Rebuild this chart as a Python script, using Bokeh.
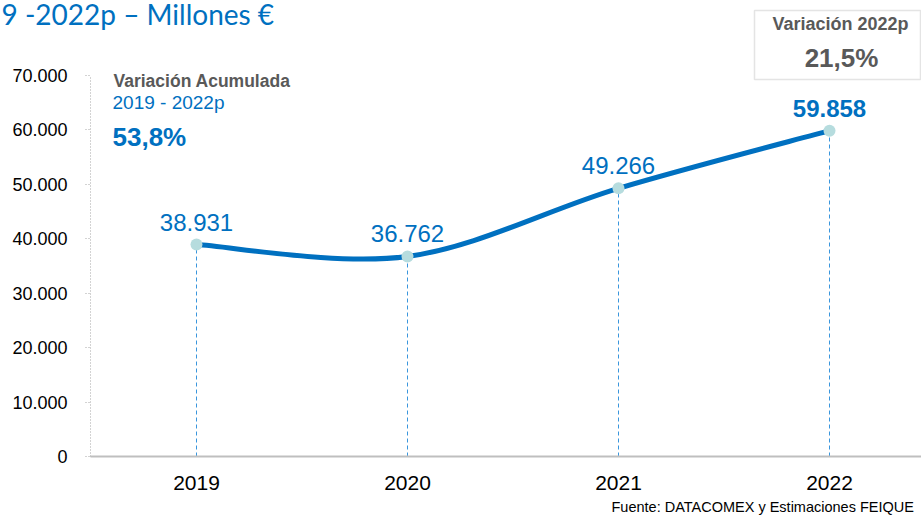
from bokeh.plotting import figure
from bokeh.models import Label, FixedTicker, Range1d, BoxAnnotation, ColumnDataSource
from bokeh.embed import file_html
from bokeh.resources import INLINE

# ---- data ----
years = ["2019", "2020", "2021", "2022"]
values = [38931, 36762, 49266, 59858]
value_labels = ["38.931", "36.762", "49.266", "59.858"]
y_ticks = [0, 10000, 20000, 30000, 40000, 50000, 60000, 70000]
y_tick_labels = ["0", "10.000", "20.000", "30.000", "40.000", "50.000", "60.000", "70.000"]
title_text = "9 -2022p  – Millones €"
cum_title = "Variación Acumulada"
cum_period = "2019 - 2022p"
cum_value = "53,8%"
var_title = "Variación 2022p"
var_value = "21,5%"
source_text = "Fuente: DATACOMEX y Estimaciones FEIQUE"

BLUE = "#0070C0"
GRAY = "#595959"
FONT = "Liberation Sans"

W, H = 921, 517
# pixel geometry of the chart area
AX_LEFT_PX, X0_PX, X_STEP_PX = 90, 196, 211
Y0_PX, YTOP_PX = 456, 75
YMAX = 70000
BASE_FIX = 0.4   # em correction for the svg alphabetic baseline

xs = list(range(len(years)))
dpp = YMAX / (Y0_PX - YTOP_PX)            # data units per pixel (y)
x_start = -X0_PX / X_STEP_PX
x_end = (W - X0_PX) / X_STEP_PX
y_start = -(H - Y0_PX) * dpp
y_end = Y0_PX * dpp
x_axis_pos = (AX_LEFT_PX - X0_PX) / X_STEP_PX

p = figure(width=W, height=H, output_backend="svg", toolbar_location=None, title=None,
           x_range=Range1d(x_start, x_end), y_range=Range1d(y_start, y_end),
           min_border_left=0, min_border_right=0, min_border_top=0, min_border_bottom=0)
p.outline_line_color = None
p.xgrid.visible = False
p.ygrid.visible = False
p.background_fill_color = "white"
p.border_fill_color = "white"

# y axis
yax = p.yaxis[0]
yax.fixed_location = x_axis_pos
yax.bounds = (0, YMAX)
yax.ticker = FixedTicker(ticks=y_ticks)
yax.major_label_overrides = {t: l for t, l in zip(y_ticks, y_tick_labels)}
yax.axis_line_color = "#A6A6A6"
yax.axis_line_dash = "1 2"
yax.major_tick_line_color = "#A6A6A6"
yax.major_tick_line_dash = "1 2"
yax.major_tick_out = 5
yax.major_tick_in = 0
yax.minor_tick_line_color = None
yax.major_label_text_font = FONT
yax.major_label_text_font_size = "18px"
yax.major_label_text_color = "#000000"
yax.major_label_standoff = 18

# x axis
xax = p.xaxis[0]
xax.fixed_location = 0
xax.bounds = (x_axis_pos, x_end)
xax.ticker = FixedTicker(ticks=xs)
xax.major_label_overrides = {i: y for i, y in zip(xs, years)}
xax.axis_line_color = "#BFBFBF"
xax.axis_line_width = 2
xax.major_tick_line_color = None
xax.minor_tick_line_color = None
xax.major_label_text_font = FONT
xax.major_label_text_font_size = "21px"
xax.major_label_text_color = "#000000"
xax.major_label_standoff = 13

# drop lines
p.segment(x0=xs, y0=[0] * len(xs), x1=xs, y1=values, line_color="#3A96DD",
          line_width=1, line_dash="4 3")

# smooth line (Catmull-Rom style bezier segments built from the data points)
x0s, y0s, x1s, y1s, cx0s, cy0s, cx1s, cy1s = [], [], [], [], [], [], [], []
n = len(xs)
for i in range(n - 1):
    pa = (xs[i - 1], values[i - 1]) if i > 0 else (xs[i], values[i])
    pb = (xs[i], values[i])
    pc = (xs[i + 1], values[i + 1])
    pd = (xs[i + 2], values[i + 2]) if i + 2 < n else pc
    x0s.append(pb[0]); y0s.append(pb[1])
    x1s.append(pc[0]); y1s.append(pc[1])
    cx0s.append(pb[0] + (pc[0] - pa[0]) / 6); cy0s.append(pb[1] + (pc[1] - pa[1]) / 6)
    cx1s.append(pc[0] - (pd[0] - pb[0]) / 6); cy1s.append(pc[1] - (pd[1] - pb[1]) / 6)
p.bezier(x0=x0s, y0=y0s, x1=x1s, y1=y1s, cx0=cx0s, cy0=cy0s, cx1=cx1s, cy1=cy1s,
         line_color=BLUE, line_width=5, line_cap="round")

p.scatter(x=xs, y=values, size=12, fill_color="#B6DCDE", line_color=None)

# value labels, baseline 13 px above each point
lift = (13 + BASE_FIX * 24) * dpp
src = ColumnDataSource(dict(x=xs[:-1], y=[v + lift for v in values[:-1]], t=value_labels[:-1]))
p.text(x="x", y="y", text="t", source=src, text_align="center",
       text_baseline="alphabetic", text_color=BLUE, text_font={"value": FONT},
       text_font_size="24px")
src2 = ColumnDataSource(dict(x=xs[-1:], y=[v + lift for v in values[-1:]], t=value_labels[-1:]))
p.text(x="x", y="y", text="t", source=src2, text_align="center",
       text_baseline="alphabetic", text_color=BLUE, text_font={"value": FONT},
       text_font_size="24px", text_font_style="bold")

# annotations (screen units from the canvas lower-left corner; baseline given from top)
def lab(text, x, base_from_top, size, color, bold=False, align="left", font=FONT):
    y = H - base_from_top + BASE_FIX * size
    p.add_layout(Label(x=x, y=y, x_units="screen", y_units="screen", text=text,
                       text_font=font, text_font_size=f"{size}px", text_color=color,
                       text_font_style="bold" if bold else "normal",
                       text_align=align, text_baseline="alphabetic"))

lab(title_text, 1, 25, 28, BLUE, font="Lato")
lab(cum_title, 113, 87, 17.5, GRAY, bold=True)
lab(cum_period, 112, 110, 19, BLUE)
lab(cum_value, 112, 147, 26, BLUE, bold=True)

p.add_layout(BoxAnnotation(left=754, right=920, bottom=H - 79, top=H - 10,
                           left_units="screen", right_units="screen",
                           bottom_units="screen", top_units="screen",
                           fill_color="white", fill_alpha=1.0,
                           line_color="#A6A6A6", line_width=1.5))
lab(var_title, 840, 31, 18, GRAY, bold=True, align="center")
lab(var_value, 841, 68, 26, GRAY, bold=True, align="center")

lab(source_text, 611, 512, 14.5, "#000000")

open("out.html", "w").write(file_html(p, INLINE))
